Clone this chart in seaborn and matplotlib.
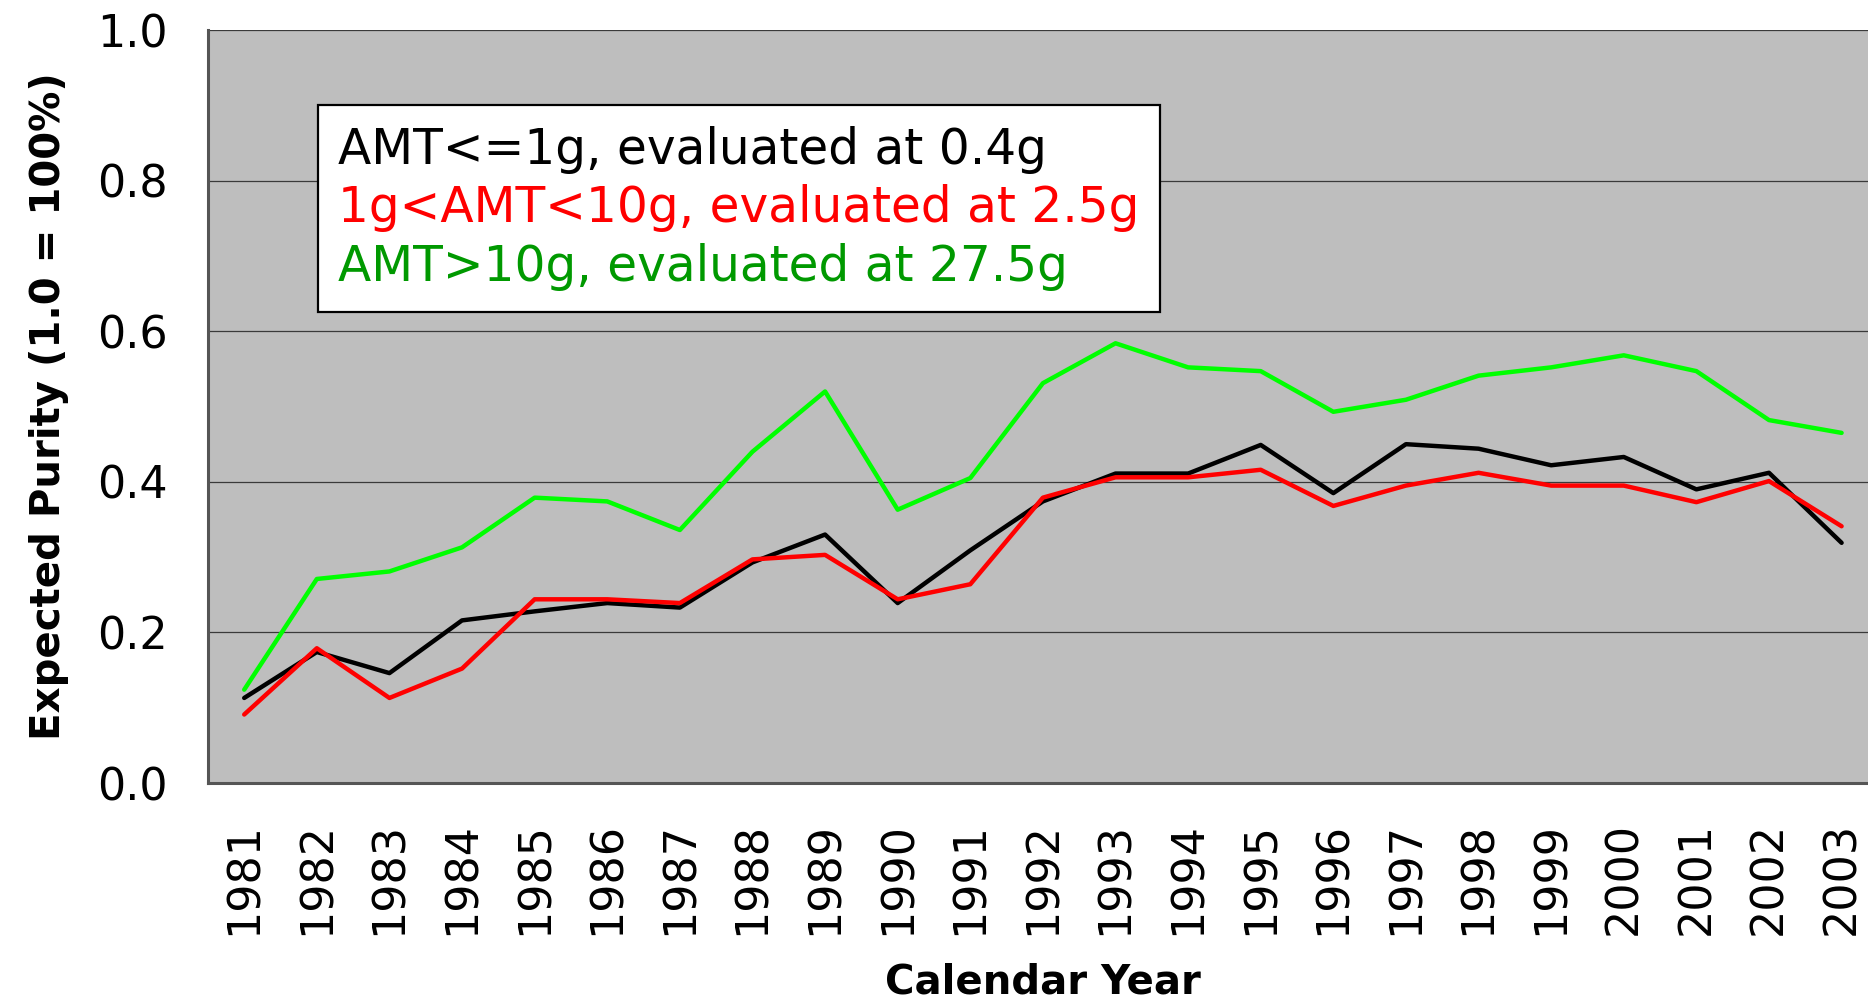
import matplotlib
matplotlib.use("Agg")
import matplotlib.pyplot as plt
import pandas as pd
import seaborn as sns

years = [str(y) for y in range(1981, 2004)]

small_amt = [0.113, 0.174, 0.146, 0.216, 0.228, 0.239, 0.233, 0.293, 0.330, 0.239,
             0.309, 0.374, 0.411, 0.411, 0.449, 0.385, 0.450, 0.444, 0.422, 0.433,
             0.390, 0.412, 0.319]
mid_amt = [0.091, 0.179, 0.113, 0.152, 0.244, 0.244, 0.239, 0.297, 0.303, 0.244,
           0.264, 0.379, 0.406, 0.406, 0.416, 0.368, 0.395, 0.412, 0.395, 0.395,
           0.373, 0.401, 0.341]
large_amt = [0.124, 0.271, 0.281, 0.313, 0.379, 0.374, 0.336, 0.440, 0.520, 0.363,
             0.405, 0.531, 0.584, 0.552, 0.547, 0.493, 0.509, 0.541, 0.552, 0.568,
             0.547, 0.482, 0.465]

labels = ["AMT<=1g, evaluated at 0.4g",
          "1g<AMT<10g, evaluated at 2.5g",
          "AMT>10g, evaluated at 27.5g"]
line_colors = ["#000000", "#ff0000", "#00ff00"]
text_colors = ["#000000", "#ff0000", "#009900"]

rows = []
for label, values in zip(labels, [small_amt, mid_amt, large_amt]):
    for i, v in enumerate(values):
        rows.append({"pos": i, "purity": v, "series": label})
df = pd.DataFrame(rows)

sns.set_style("white")
plt.rcParams.update({
    "font.family": ["DejaVu Sans"],
    "text.color": "black",
    "axes.labelcolor": "black",
    "xtick.color": "black",
    "ytick.color": "black",
})

fig = plt.figure(figsize=(18.68, 10.07), dpi=100)
ax = fig.add_axes([0.1113, 0.2224, 0.894, 0.7478])
ax.set_facecolor("#bebebe")

sns.lineplot(data=df, x="pos", y="purity", hue="series", palette=line_colors,
             hue_order=labels, linewidth=3.2, sort=False, legend=False, ax=ax)

ax.set_xlim(-0.5, 22.5)
ax.set_ylim(0, 1.0)
ax.set_yticks([0.0, 0.2, 0.4, 0.6, 0.8, 1.0])
ax.set_yticklabels(["0.0", "0.2", "0.4", "0.6", "0.8", "1.0"])
ax.yaxis.grid(True, color="#3a3a3a", linewidth=0.9)
ax.set_axisbelow(True)

ax.set_xticks(range(len(years)))
ax.set_xticklabels(years, rotation=90)
ax.set_xticks([i - 0.5 for i in range(len(years) + 1)], minor=True)
ax.tick_params(axis="x", which="major", length=0, pad=28, labelsize=32,
               labelcolor="black")
ax.tick_params(axis="x", which="minor", length=12, width=1.2, color="#444444",
               direction="out")
ax.tick_params(axis="y", length=12, width=1.2, color="#444444", pad=17,
               labelsize=32, direction="out", labelcolor="black")

for s in ["top", "right"]:
    ax.spines[s].set_visible(False)
for s in ["left", "bottom"]:
    ax.spines[s].set_color("#555555")
    ax.spines[s].set_linewidth(2.2)

ax.set_ylabel("Expected Purity (1.0 = 100%)", fontsize=29, fontweight="bold",
              labelpad=20, color="black")
ax.set_xlabel("Calendar Year", fontsize=29, fontweight="bold", labelpad=20,
              color="black")

leg = ax.legend(ax.lines[:3], labels, loc="upper left",
                bbox_to_anchor=(0.0659, 0.900), borderaxespad=0,
                frameon=True, fancybox=False, fontsize=35, handlelength=0,
                handletextpad=0, labelspacing=0.22, borderpad=0.42)
leg.get_frame().set_edgecolor("#000000")
leg.get_frame().set_linewidth(1.6)
leg.get_frame().set_facecolor("white")
leg.get_frame().set_alpha(1)
for h in leg.legend_handles:
    h.set_visible(False)
for t, c in zip(leg.get_texts(), text_colors):
    t.set_color(c)

fig.savefig("out.png", dpi=100)
